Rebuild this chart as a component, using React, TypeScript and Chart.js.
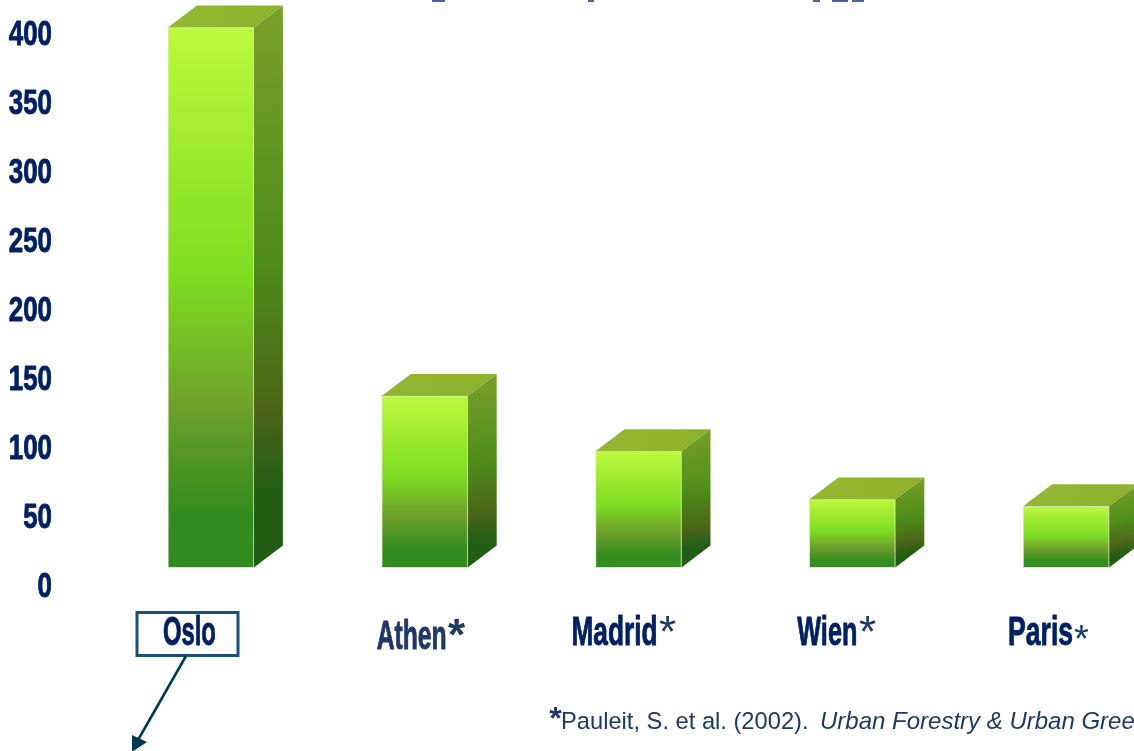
import React, { useEffect, useRef } from "react";
import { Chart, registerables } from "chart.js";

Chart.register(...registerables);

const categories = ["Oslo", "Athen", "Madrid", "Wien", "Paris"];
const seriesValues = [404, 137, 97, 62, 57];
const baseValue = 12.6;
const yTicks = [0, 50, 100, 150, 200, 250, 300, 350, 400];
const footnoteRoman = "Pauleit, S. et al. (2002).";
const footnoteItalic = "Urban Forestry & Urban Greening";

const labelStyles = [
  { dx: -48, width: 53, base: 645, color: "#002060", star: "", starFont: "", starX: 0, starY: 0 },
  { dx: -48, width: 70, base: 649, color: "#1F3864", star: "*", starFont: "bold 44px 'Liberation Sans'", starX: 448, starY: 650 },
  { dx: -67, width: 86, base: 645, color: "#002060", star: "*", starFont: "44px 'Liberation Sans'", starX: 659, starY: 647 },
  { dx: -55, width: 60, base: 645, color: "#002060", star: "*", starFont: "44px 'Liberation Sans'", starX: 859, starY: 647 },
  { dx: -58, width: 65, base: 645, color: "#002060", star: "*", starFont: "38px 'Liberation Sans'", starX: 1074, starY: 652 },
];

const DEPTH_X = 29;
const DEPTH_Y = 22;

function linear(ctx: CanvasRenderingContext2D, x0: number, y0: number, x1: number, y1: number, stops: [number, string][]) {
  const g = ctx.createLinearGradient(x0, y0, x1, y1);
  stops.forEach(([o, c]) => g.addColorStop(o, c));
  return g;
}

function squeezed(ctx: CanvasRenderingContext2D, text: string, x: number, y: number, sx: number, color: string, align: CanvasTextAlign) {
  ctx.save();
  ctx.translate(x, y);
  ctx.scale(sx, 1);
  ctx.textAlign = align;
  ctx.fillStyle = color;
  ctx.strokeStyle = color;
  ctx.lineWidth = 0.9;
  ctx.lineJoin = "round";
  ctx.fillText(text, 0, 0);
  ctx.strokeText(text, 0, 0);
  ctx.restore();
}

const depthPlugin = {
  id: "depthFaces",
  beforeDatasetsDraw(chart: any) {
    const ctx = chart.ctx as CanvasRenderingContext2D;
    chart.getDatasetMeta(0).data.forEach((bar: any) => {
      const right = bar.x + bar.width / 2;
      const left = bar.x - bar.width / 2;
      const top = bar.y;
      const base = bar.base;
      ctx.save();
      ctx.fillStyle = linear(ctx, left, top - DEPTH_Y, right + DEPTH_X, top, [
        [0, "#93B633"],
        [1, "#8EB22E"],
      ]);
      ctx.beginPath();
      ctx.moveTo(left, top);
      ctx.lineTo(left + DEPTH_X, top - DEPTH_Y);
      ctx.lineTo(right + DEPTH_X, top - DEPTH_Y);
      ctx.lineTo(right, top);
      ctx.closePath();
      ctx.fill();
      ctx.fillStyle = linear(ctx, right, top - DEPTH_Y, right + DEPTH_X * 0.4, base, [
        [0, "#7A9F2C"],
        [0.45, "#4F8D19"],
        [0.72, "#4B6519"],
        [0.86, "#215D14"],
        [1, "#215D14"],
      ]);
      ctx.beginPath();
      ctx.moveTo(right, top);
      ctx.lineTo(right + DEPTH_X, top - DEPTH_Y);
      ctx.lineTo(right + DEPTH_X, base - DEPTH_Y);
      ctx.lineTo(right, base);
      ctx.closePath();
      ctx.fill();
      ctx.restore();
    });
  },
};

const textPlugin = {
  id: "axisText",
  afterDraw(chart: any) {
    const ctx = chart.ctx as CanvasRenderingContext2D;
    const x = chart.scales.x;
    const y = chart.scales.y;
    ctx.save();
    ctx.textBaseline = "alphabetic";

    // y axis labels, at the library's tick positions
    ctx.font = "bold 35px 'Liberation Sans'";
    y.ticks.forEach((t: any) => {
      squeezed(ctx, String(t.value), 52, y.getPixelForValue(t.value) + 11.5, 0.74, "#002060", "right");
    });

    // category labels
    categories.forEach((name, i) => {
      const st = labelStyles[i];
      const px = x.getPixelForValue(i) + st.dx;
      ctx.font = "bold 40px 'Liberation Sans'";
      const w = ctx.measureText(name).width;
      squeezed(ctx, name, px, st.base, st.width / w, st.color, "left");
      if (st.star) {
        ctx.font = st.starFont;
        ctx.fillStyle = "#1F3864";
        ctx.fillText(st.star, st.starX, st.starY);
      }
    });

    // box around the Oslo label and the arrow under it
    ctx.strokeStyle = "#1F4E79";
    ctx.lineWidth = 3;
    ctx.strokeRect(137, 612.5, 101, 43);
    ctx.strokeStyle = "#003A52";
    ctx.lineWidth = 2.6;
    ctx.beginPath();
    ctx.moveTo(186, 656);
    ctx.lineTo(138, 740);
    ctx.stroke();
    ctx.fillStyle = "#003A52";
    ctx.beginPath();
    ctx.moveTo(132, 735);
    ctx.lineTo(147, 742);
    ctx.lineTo(132, 752);
    ctx.closePath();
    ctx.fill();

    // footnote
    ctx.fillStyle = "#1F3864";
    ctx.font = "italic bold 32px 'Liberation Sans'";
    ctx.fillText("*", 548, 729);
    ctx.font = "23.7px 'Liberation Sans'";
    ctx.fillText(footnoteRoman, 561, 729);
    ctx.font = "italic 24px 'Liberation Sans'";
    ctx.fillText(footnoteItalic, 820, 729);

    // the bottoms of a cropped heading along the top edge
    ctx.fillStyle = "#4A62A0";
    [[432, 13], [588, 6], [813, 7], [832, 16], [852, 12]].forEach(([fx, fw]) => ctx.fillRect(fx, 0, fw, 2));
    ctx.restore();
  },
};

export default function App() {
  const ref = useRef<HTMLCanvasElement>(null);
  useEffect(() => {
    const chart = new Chart(ref.current!, {
      type: "bar",
      data: {
        labels: categories,
        datasets: [
          {
            data: seriesValues,
            base: baseValue,
            barThickness: 86,
            clip: false,
            borderWidth: 1,
            borderColor: "rgba(190,225,150,0.55)",
            borderSkipped: false,
            backgroundColor: (c: any) => {
              const y = c.chart.scales?.y;
              const top = y ? y.getPixelForValue(c.raw) : NaN;
              const bottom = y ? y.getPixelForValue(baseValue) : NaN;
              if (!Number.isFinite(top) || !Number.isFinite(bottom)) return "#7CDC22";
              return linear(c.chart.ctx, 0, top, 0, bottom, [
                [0, "#BEF93E"],
                [0.2, "#A3EB32"],
                [0.46, "#7EDD22"],
                [0.7, "#6EA02B"],
                [0.9, "#338B1F"],
                [1, "#348A20"],
              ]);
            },
          },
        ],
      } as any,
      options: {
        animation: false,
        responsive: false,
        devicePixelRatio: 1,
        layout: { padding: { top: 33, bottom: 166, left: 0, right: 27 } },
        plugins: { legend: { display: false }, tooltip: { enabled: false }, title: { display: false } },
        scales: {
          x: { display: false },
          y: {
            min: 0,
            max: 400,
            afterFit: (s: any) => {
              s.width = 104;
            },
            afterBuildTicks: (s: any) => {
              s.ticks = yTicks.map((value) => ({ value }));
            },
            border: { display: false },
            grid: { display: false, drawTicks: false },
            ticks: { display: false },
          },
        },
      } as any,
      plugins: [depthPlugin, textPlugin],
    });
    return () => chart.destroy();
  }, []);
  return (
    <div style={{ position: "fixed", left: 0, top: 0, width: 1134, height: 751, overflow: "hidden", background: "#fff" }}>
      <canvas ref={ref} width={1200} height={751} style={{ display: "block", width: 1200, height: 751 }} />
    </div>
  );
}
